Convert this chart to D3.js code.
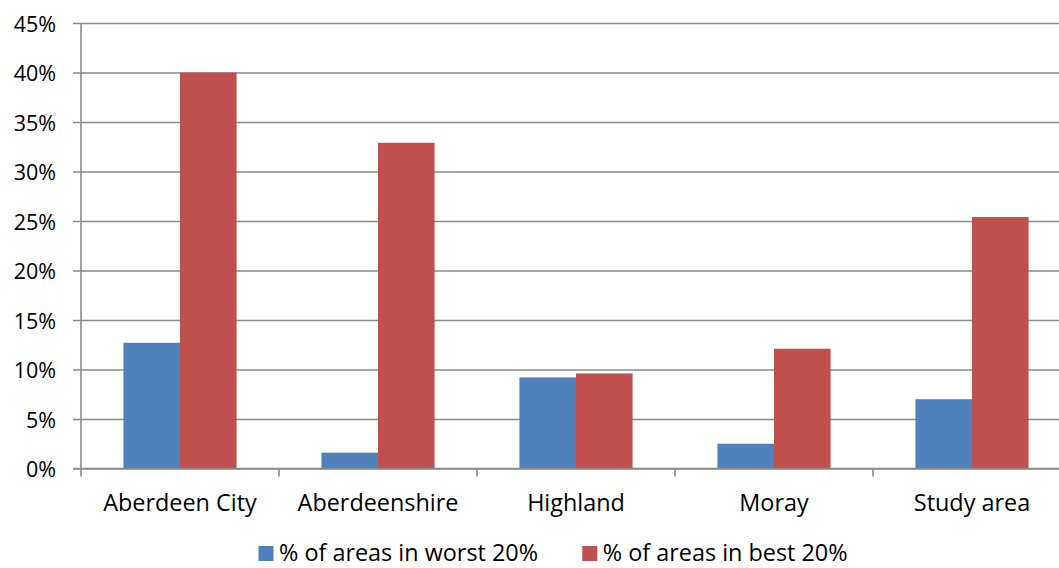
<!DOCTYPE html>
<html>
<head>
<meta charset="utf-8">
<script src="https://cdn.jsdelivr.net/npm/d3@7"></script>
<style>
  html, body { margin: 0; padding: 0; background: #fff; }
  svg { display: block; }
  text { font-family: "Open Sans", "Noto Sans", sans-serif; fill: #000; }
</style>
</head>
<body>
<svg id="chart" width="1059" height="568"></svg>
<script>
// Deprivation share by council area
const categories = ["Aberdeen City", "Aberdeenshire", "Highland", "Moray", "Study area"];
const seriesNames = ["% of areas in worst 20%", "% of areas in best 20%"];
const worst20 = [12.7, 1.6, 9.2, 2.5, 7.0];
const best20 = [40.0, 32.9, 9.6, 12.1, 25.4];
const yTicks = [0, 5, 10, 15, 20, 25, 30, 35, 40, 45];
const colors = ["#4F81BD", "#C0504D"];

const svg = d3.select("#chart");
const plotLeft = 81, plotRight = 1071, plotTop = 23, plotBottom = 468.5;
const gridColor = "#8a8a8a";

const x = d3.scaleBand().domain(categories).range([plotLeft, plotRight]).padding(0);
const y = d3.scaleLinear().domain([0, 45]).range([plotBottom, plotTop]);
const inner = d3.scaleBand().domain(seriesNames)
  .range([0, x.bandwidth()]).paddingOuter(0.75).paddingInner(0);

// horizontal gridlines + y axis labels
const yAxis = d3.axisLeft(y).tickValues(yTicks).tickFormat(d => d + "%")
  .tickSize(-(1059 - plotLeft)).tickSizeOuter(0).tickPadding(25);
const gy = svg.append("g").attr("transform", `translate(${plotLeft},0)`).call(yAxis);
gy.select(".domain").remove();
gy.selectAll(".tick line").attr("x1", -8).attr("stroke", gridColor).attr("stroke-width", 1.6);
gy.selectAll(".tick text")
  .attr("font-size", 21.5).attr("font-family", "Open Sans, sans-serif").attr("fill", "#000")
  .attr("dy", "0.38em");

// bars
const data = categories.map((c, i) => ({ c, vals: [worst20[i], best20[i]] }));
const groups = svg.append("g").selectAll("g").data(data).join("g")
  .attr("transform", d => `translate(${x(d.c)},0)`);
groups.selectAll("rect").data(d => d.vals.map((v, j) => ({ v, s: seriesNames[j], j })))
  .join("rect")
  .attr("x", d => inner(d.s))
  .attr("width", inner.bandwidth())
  .attr("y", d => y(d.v))
  .attr("height", d => y(0) - y(d.v))
  .attr("fill", d => colors[d.j]);

// vertical axis line
svg.append("line").attr("x1", plotLeft).attr("x2", plotLeft).attr("y1", plotTop).attr("y2", plotBottom)
  .attr("stroke", gridColor).attr("stroke-width", 1.6);

// x axis: category labels and boundary ticks
const xAxis = d3.axisBottom(x).tickSize(0).tickPadding(0);
const gx = svg.append("g").attr("transform", `translate(0,${plotBottom})`).call(xAxis);
gx.select(".domain").remove();
gx.selectAll(".tick text")
  .attr("font-size", 23.4).attr("font-family", "Open Sans, sans-serif").attr("fill", "#000")
  .attr("y", 42.5).attr("dy", null);
svg.append("line").attr("x1", plotLeft - 8).attr("x2", 1059).attr("y1", plotBottom).attr("y2", plotBottom)
  .attr("stroke", gridColor).attr("stroke-width", 1.6);
svg.append("g").selectAll("line").data(categories.map(c => x(c)))
  .join("line")
  .attr("x1", d => d).attr("x2", d => d)
  .attr("y1", plotBottom).attr("y2", plotBottom + 8)
  .attr("stroke", gridColor).attr("stroke-width", 1.6);

// legend
const legendItems = [
  { name: seriesNames[0], color: colors[0], x: 258.5 },
  { name: seriesNames[1], color: colors[1], x: 582.3 }
];
const lg = svg.append("g").selectAll("g").data(legendItems).join("g")
  .attr("transform", d => `translate(${d.x},546)`);
lg.append("rect").attr("width", 15).attr("height", 15).attr("fill", d => d.color);
lg.append("text").attr("x", 20.5).attr("y", 14.7)
  .attr("font-size", 23.4).text(d => d.name);
</script>
</body>
</html>
